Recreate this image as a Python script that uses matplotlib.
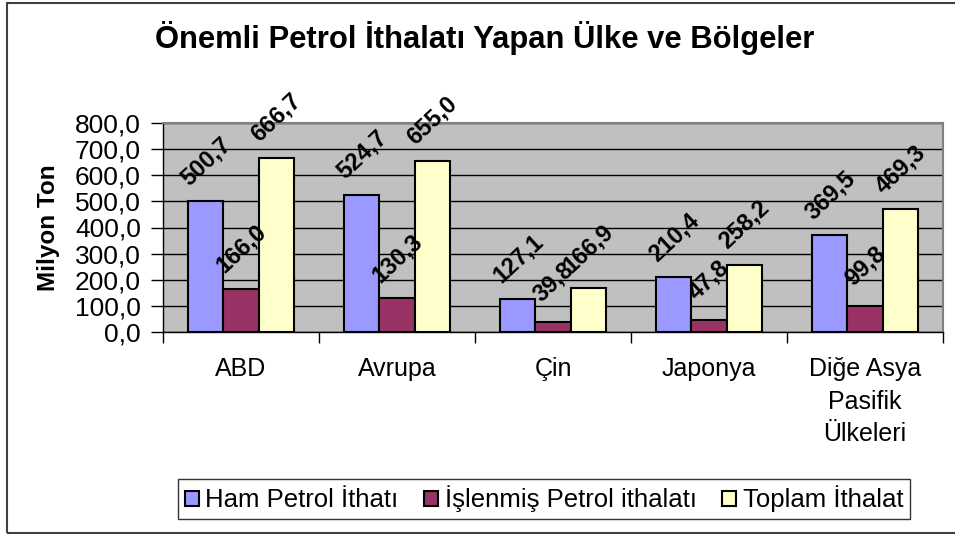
import numpy as np
import matplotlib
matplotlib.use("Agg")
import matplotlib.pyplot as plt
from matplotlib.patches import Rectangle

plt.rcParams['font.family'] = ['Liberation Sans', 'DejaVu Sans']

categories = ["ABD", "Avrupa", "Çin", "Japonya", "Diğe Asya\nPasifik\nÜlkeleri"]
series_names = ["Ham Petrol İthatı", "İşlenmiş Petrol ithalatı", "Toplam İthalat"]
ham = [500.7, 524.7, 127.1, 210.4, 369.5]
islenmis = [166.0, 130.3, 39.8, 47.8, 99.8]
toplam = [666.7, 655.0, 166.9, 258.2, 469.3]
colors = ["#9999FF", "#993366", "#FFFFCC"]
yticks = [0, 100, 200, 300, 400, 500, 600, 700, 800]

def fmt(v):
    return ("%.1f" % v).replace(".", ",")

fig = plt.figure(figsize=(9.55, 5.36), dpi=100)
ax = fig.add_axes([163/955, 1-332/536, 780/955, 209/536])
ax.set_facecolor("#C0C0C0")

x = np.arange(len(categories))
w = 0.2244
for k, (vals, c, name) in enumerate(zip([ham, islenmis, toplam], colors, series_names)):
    pos = x + (k-1)*w
    ax.bar(pos, vals, w, color=c, edgecolor="black", linewidth=1.5, label=name, zorder=3)
    for p, v in zip(pos, vals):
        ax.annotate(fmt(v), (p, v), xytext=(0, 40), textcoords="offset pixels",
                    ha="center", va="center", rotation=43, fontsize=17,
                    fontweight="bold", zorder=5)

ax.set_xlim(-0.5, len(categories)-0.5)
ax.set_ylim(0, 800)
ax.set_yticks(yticks)
ax.set_yticklabels([fmt(v) for v in yticks], fontsize=19)
ax.yaxis.grid(True, color="black", linewidth=1, zorder=1)
ax.set_axisbelow(True)
ax.tick_params(axis="y", direction="out", length=9, width=1, pad=7)

ax.set_xticks(x)
ax.set_xticklabels(categories, fontsize=18)
for t in ax.get_xticklabels():
    t.set_linespacing(1.45)
ax.set_xticks(np.arange(len(categories)+1)-0.5, minor=True)
ax.tick_params(axis="x", which="major", length=0, pad=18)
ax.tick_params(axis="x", which="minor", direction="out", length=8, width=1)

for s in ["top", "right"]:
    ax.spines[s].set_color("#808080")
    ax.spines[s].set_linewidth(1.5)
for s in ["left", "bottom"]:
    ax.spines[s].set_color("black")
    ax.spines[s].set_linewidth(1)

ax.set_ylabel("Milyon Ton", fontsize=17.5, fontweight="bold")
ax.yaxis.set_label_coords(-0.132, 0.5)

fig.text(485/955, 1-48/536, "Önemli Petrol İthalatı Yapan Ülke ve Bölgeler",
         ha="center", va="baseline", fontsize=22.3, fontweight="bold")

leg = fig.legend(loc="center", bbox_to_anchor=(544/955, 1-499/536), ncol=3,
                 fontsize=18.5, frameon=True, fancybox=False, edgecolor="black",
                 handlelength=0.55, handleheight=0.55, handletextpad=0.25,
                 columnspacing=1.0, borderpad=0.25, borderaxespad=0)
leg.get_frame().set_linewidth(1)

fig.patches.append(Rectangle((7/955, 3/536), 1.0, 530/536, transform=fig.transFigure,
                             fill=False, edgecolor="#404040", linewidth=1.5))

fig.savefig("out.png", dpi=100)
